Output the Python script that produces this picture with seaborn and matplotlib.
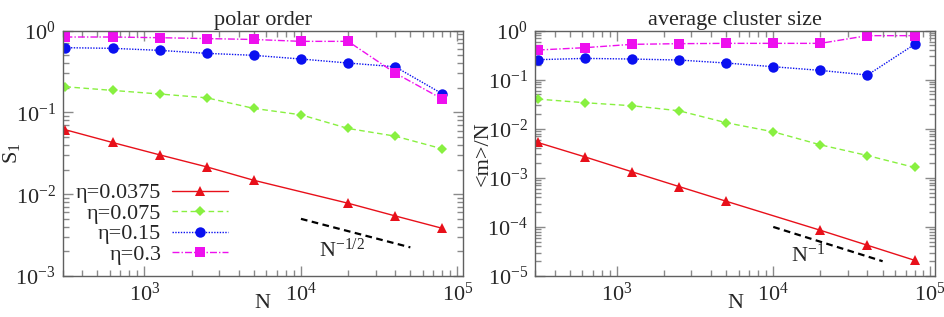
import numpy as np
import matplotlib
matplotlib.use('Agg')
import matplotlib.pyplot as plt
import seaborn as sns
from matplotlib.ticker import LogLocator, LogFormatterMathtext, NullFormatter

# system sizes
N = [312.5, 625, 1250, 2500, 5000, 10000, 20000, 40000, 80000]
N_red = [312.5, 625, 1250, 2500, 5000, 20000, 40000, 80000]

# polar order S_1
s1_0375 = [0.0614, 0.0429, 0.0303, 0.0216, 0.0148, 0.00776, 0.00543, 0.00383]
s1_075 = [0.206, 0.186, 0.168, 0.151, 0.112, 0.0936, 0.0637, 0.0513, 0.0359]
s1_15 = [0.619, 0.608, 0.574, 0.528, 0.499, 0.450, 0.402, 0.362, 0.169]
s1_3 = [0.836, 0.836, 0.82, 0.80, 0.78, 0.74, 0.74, 0.303, 0.146]

# average cluster size <m>/N
m_0375 = [0.00526, 0.00268, 0.00133, 0.000665, 0.000334, 8.55e-5, 4.23e-5, 2.09e-5]
m_075 = [0.0403, 0.034, 0.0295, 0.0233, 0.0133, 0.00869, 0.00471, 0.00285, 0.00163]
m_15 = [0.256, 0.272, 0.264, 0.252, 0.219, 0.184, 0.155, 0.1245, 0.526]
m_3 = [0.403, 0.45, 0.526, 0.543, 0.551, 0.551, 0.551, 0.791, 0.791]

labels = ['η=0.0375', 'η=0.075', 'η=0.15', 'η=0.3']

# guide lines
N_guide = [1e4, 5e4]
s1_guide = [0.005, 0.00224]
m_guide = [1e-4, 2e-5]

sns.set_style('ticks')
plt.rcParams['font.family'] = ['Liberation Serif', 'DejaVu Serif']
plt.rcParams['mathtext.fontset'] = 'custom'
plt.rcParams['mathtext.rm'] = 'Liberation Serif'
plt.rcParams['mathtext.it'] = 'Liberation Serif:italic'
FS = 16

colors = ['#e8101a', '#88f040', '#0a10f0', '#ee10ee']
styles = [('-', '^', 7.5), ((0, (4, 2.5)), 'D', 5), ((0, (1, 1)), 'o', 7.5), ((0, (5, 1.5, 1, 1.5)), 's', 7.5)]

fig = plt.figure(figsize=(9.45, 3.17), dpi=100)
ax1 = fig.add_axes([0.0663, 0.1293, 0.4233, 0.774])
ax2 = fig.add_axes([0.5661, 0.1293, 0.4233, 0.774])


def draw(ax, series, guide, ylim, title, ylabel, guide_text, text_y):
    xs_list = [N_red, N, N, N]
    for xs, ys, c, (ls, mk, ms), lab in zip(xs_list, series, colors, styles, labels):
        sns.lineplot(x=xs, y=ys, ax=ax, color=c, linestyle=ls, marker=mk,
                     markersize=ms, markeredgewidth=0, lw=1.0, label=lab,
                     legend=False)
    sns.lineplot(x=N_guide, y=guide, ax=ax, color='black', linestyle=(0, (3, 2)),
                 lw=1.6, legend=False)
    ax.text(1.3e4, text_y, guide_text, fontsize=FS, ha='left', va='baseline')
    ax.set_xscale('log')
    ax.set_yscale('log')
    ax.set_xlim(300, 1.08e5)
    ax.set_ylim(*ylim)
    ax.xaxis.set_major_locator(LogLocator(base=10, numticks=10))
    ax.xaxis.set_minor_locator(LogLocator(base=10, subs=np.arange(2, 10), numticks=20))
    ax.yaxis.set_major_locator(LogLocator(base=10, numticks=10))
    ax.yaxis.set_minor_locator(LogLocator(base=10, subs=np.arange(2, 10), numticks=20))
    ax.xaxis.set_major_formatter(LogFormatterMathtext())
    ax.yaxis.set_major_formatter(LogFormatterMathtext())
    ax.xaxis.set_minor_formatter(NullFormatter())
    ax.yaxis.set_minor_formatter(NullFormatter())
    ax.tick_params(which='both', direction='in', top=True, right=True,
                   color='#8a8a8a', labelsize=FS, width=1.0)
    ax.tick_params(which='major', length=7, pad=5)
    ax.tick_params(which='minor', length=4)
    for sp in ax.spines.values():
        sp.set_color('#606060')
        sp.set_linewidth(1.0)
    ax.set_title(title, fontsize=FS, pad=4)
    ax.set_xlabel('N', fontsize=FS, va='center')
    ax.xaxis.set_label_coords(0.5, -0.11)
    ax.set_ylabel(ylabel, fontsize=FS, va='center')
    ax.yaxis.set_label_coords(-0.128, 0.5)


draw(ax1, [s1_0375, s1_075, s1_15, s1_3], s1_guide, (1e-3, 1.0),
     'polar order', r'S$_1$', r'N$^{-1/2}$', 1.7e-3)
draw(ax2, [m_0375, m_075, m_15, m_3], m_guide, (1e-5, 1.0),
     'average cluster size', '<m>/N', r'N$^{-1}$', 1.95e-5)

handles, labs = ax1.get_legend_handles_labels()
ax1.legend(handles[:4], labs[:4], loc='lower right', bbox_to_anchor=(0.413, 0.045),
           frameon=False, markerfirst=False, fontsize=FS, handlelength=2.5,
           handletextpad=0.5, labelspacing=0.0, borderpad=0, borderaxespad=0)

fig.savefig('out.png', dpi=100)
